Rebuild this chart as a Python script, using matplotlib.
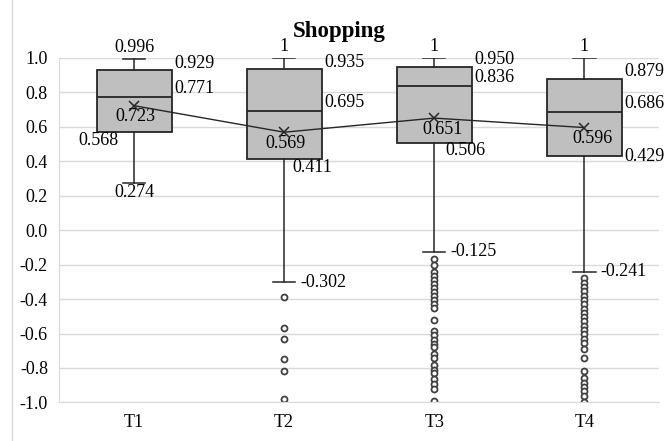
import matplotlib.pyplot as plt
from matplotlib.patches import Rectangle

plt.rcParams['font.family'] = ['Liberation Serif', 'DejaVu Serif']

groups = ['T1', 'T2', 'T3', 'T4']
whisker_hi = [0.996, 1, 1, 1]
q3 = [0.929, 0.935, 0.950, 0.879]
median = [0.771, 0.695, 0.836, 0.686]
mean = [0.723, 0.569, 0.651, 0.596]
q1 = [0.568, 0.411, 0.506, 0.429]
whisker_lo = [0.274, -0.302, -0.125, -0.241]
outliers = [
    [],
    [-0.39, -0.57, -0.63, -0.75, -0.82, -0.98],
    [-0.17, -0.20, -0.24, -0.265, -0.29, -0.31, -0.335, -0.36, -0.38, -0.405,
     -0.43, -0.45, -0.52, -0.585, -0.61, -0.635, -0.66, -0.68, -0.72, -0.745,
     -0.785, -0.81, -0.83, -0.865, -0.895, -0.925, -0.99],
    [-0.28, -0.305, -0.33, -0.355, -0.38, -0.405, -0.43, -0.455, -0.48, -0.505,
     -0.53, -0.555, -0.58, -0.605, -0.63, -0.655, -0.69, -0.74, -0.82, -0.86,
     -0.885, -0.91, -0.935, -0.96, -1.0],
]
hi_labels = ['0.996', '1', '1', '1']
lo_labels = ['0.274', '-0.302', '-0.125', '-0.241']

stats = []
for i in range(len(groups)):
    stats.append(dict(label=groups[i], whishi=whisker_hi[i], q3=q3[i], med=median[i],
                      mean=mean[i], q1=q1[i], whislo=whisker_lo[i], fliers=outliers[i]))

fig = plt.figure(figsize=(6.67, 4.41), dpi=100)
ax = fig.add_axes([0.0885, 0.0875, 0.9, 0.781])

pos = list(range(1, len(groups) + 1))
ax.bxp(stats, positions=pos, widths=0.5, patch_artist=True, showmeans=False,
       boxprops=dict(facecolor='#bfbfbf', edgecolor='#262626', linewidth=1.3),
       medianprops=dict(color='#262626', linewidth=1.3),
       whiskerprops=dict(color='#262626', linewidth=1.1),
       capprops=dict(color='#262626', linewidth=1.1),
       capwidths=0.15,
       flierprops=dict(marker='o', markersize=4.3, markerfacecolor='white',
                       markeredgecolor='#404040', markeredgewidth=1.3))

# mean markers joined by a line
ax.plot(pos, mean, color='#262626', linewidth=1.0, marker='x', markersize=7,
        markeredgewidth=1.1, zorder=5)

fs = 13
for i, x in enumerate(pos):
    ax.annotate(hi_labels[i], (x, whisker_hi[i]), xytext=(0, 2), textcoords='offset points',
                ha='center', va='bottom', fontsize=fs)
    ax.annotate(f'{mean[i]:.3f}', (x, mean[i]), xytext=(1 if i < 2 else 6, -2),
                textcoords='offset points', ha='center', va='top', fontsize=fs)
    ax.annotate(f'{median[i]:.3f}', (x + 0.25, median[i]), xytext=(2, 0),
                textcoords='offset points', ha='left', va='bottom', fontsize=fs)
    ax.annotate(f'{q3[i]:.3f}', (x + 0.25, q3[i]), xytext=(2, -1),
                textcoords='offset points', ha='left', va='bottom', fontsize=fs)

# first quartile labels
ax.annotate(f'{q1[0]:.3f}', (pos[0] - 0.25, q1[0]), xytext=(-13, 0),
            textcoords='offset points', ha='left', va='top', fontsize=fs)
ax.annotate(f'{q1[1]:.3f}', (pos[1], q1[1]), xytext=(6, 0),
            textcoords='offset points', ha='left', va='top', fontsize=fs)
ax.annotate(f'{q1[2]:.3f}', (pos[2], q1[2]), xytext=(8, 1),
            textcoords='offset points', ha='left', va='top', fontsize=fs)
ax.annotate(f'{q1[3]:.3f}', (pos[3] + 0.25, q1[3]), xytext=(2, 0),
            textcoords='offset points', ha='left', va='center', fontsize=fs)

# lower whisker labels
ax.annotate(lo_labels[0], (pos[0], whisker_lo[0]), xytext=(0, -1),
            textcoords='offset points', ha='center', va='top', fontsize=fs)
for i in range(1, 4):
    ax.annotate(lo_labels[i], (pos[i] + 0.08, whisker_lo[i]), xytext=(3, 0),
                textcoords='offset points', ha='left', va='center', fontsize=fs)

ax.set_xlim(0.5, 4.5)
ax.set_ylim(-1.0, 1.0)
ax.set_yticks([-1.0 + 0.2 * k for k in range(11)])
ax.yaxis.set_major_formatter(plt.FuncFormatter(lambda v, _: f'{v:.1f}'))
ax.set_xticks(pos)
ax.set_xticklabels(groups)
ax.tick_params(axis='both', length=0, labelsize=fs, pad=8)
ax.grid(axis='y', color='#d9d9d9', linewidth=1.0)
ax.set_axisbelow(True)
for side in ['top', 'right']:
    ax.spines[side].set_visible(False)
ax.spines['left'].set_color('#d9d9d9')
ax.spines['bottom'].set_color('#d9d9d9')

fig.text(339 / 667, 1 - 31 / 441, 'Shopping', fontsize=16.5, fontweight='bold',
         ha='center', va='center')

# chart border
fig.patches.append(Rectangle((0.018, -0.01), 1.0, 1.02, transform=fig.transFigure,
                             fill=False, edgecolor='#d9d9d9', linewidth=1.0))

fig.savefig('out.png', dpi=100)
